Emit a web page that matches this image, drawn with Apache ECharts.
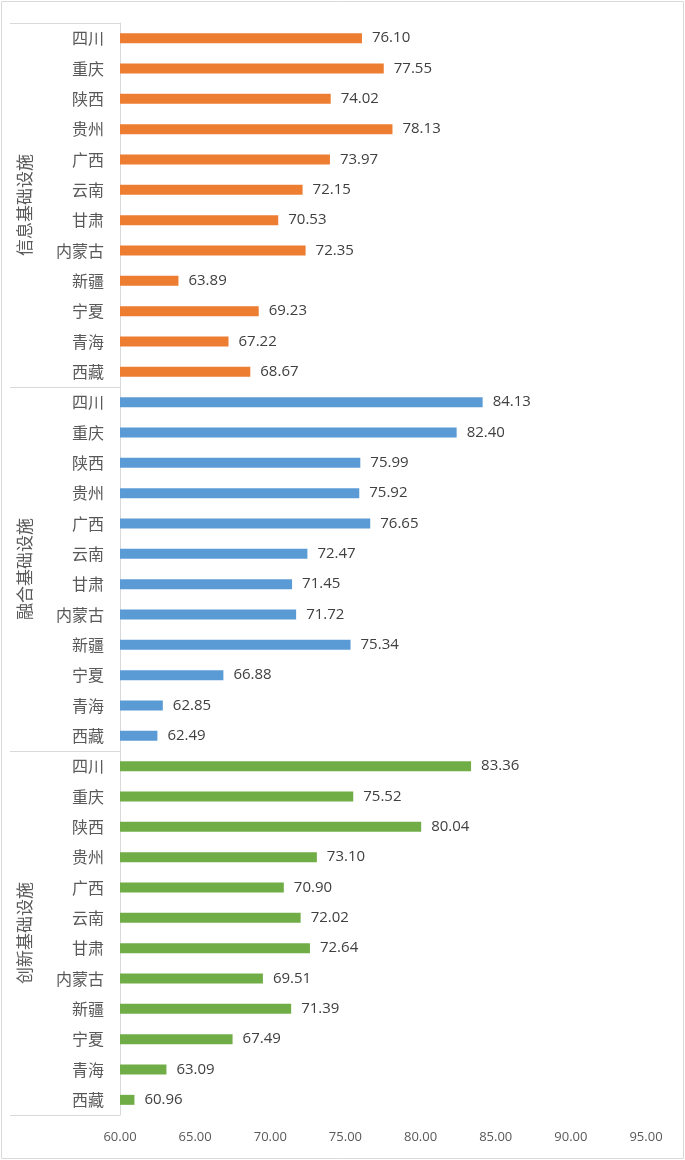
<!DOCTYPE html>
<html><head><meta charset="utf-8">
<style>html,body{margin:0;padding:0;background:#fff;}#c{width:685px;height:1160px;}</style>
<script src="https://cdn.jsdelivr.net/npm/echarts@6/dist/echarts.min.js"></script>
</head><body><div id="c"></div>
<script>
const provinces = ['四川','重庆','陕西','贵州','广西','云南','甘肃','内蒙古','新疆','宁夏','青海','西藏'];
const groups = ['信息基础设施','融合基础设施','创新基础设施'];
const infoValues = [76.10,77.55,74.02,78.13,73.97,72.15,70.53,72.35,63.89,69.23,67.22,68.67];
const fusionValues = [84.13,82.40,75.99,75.92,76.65,72.47,71.45,71.72,75.34,66.88,62.85,62.49];
const innovValues = [83.36,75.52,80.04,73.10,70.90,72.02,72.64,69.51,71.39,67.49,63.09,60.96];
const xTicks = [60,65,70,75,80,85,90,95];
const colors = ['#ED7D31','#5B9BD5','#70AD47'];

const groupValues = [infoValues, fusionValues, innovValues];
const categories = [];
groups.forEach(() => provinces.forEach(p => categories.push(p)));
const n = provinces.length;

const series = groupValues.map((vals, gi) => {
  const data = [];
  for (let g = 0; g < groups.length; g++) {
    for (let i = 0; i < n; i++) data.push(g === gi ? vals[i] : '-');
  }
  return {
    type: 'bar', name: groups[gi], data, yAxisIndex: 0,
    barWidth: 10, barGap: '-100%',
    itemStyle: { color: colors[gi] },
    label: { show: true, position: 'right', distance: 10, color: '#404040', fontSize: 15,
      fontFamily: 'Open Sans, sans-serif', formatter: p => Number(p.value).toFixed(2) },
    silent: true
  };
});

const chart = echarts.init(document.getElementById('c'), null, { renderer: 'canvas' });
chart.setOption({
  animation: false,
  backgroundColor: '#fff',
  grid: { left: 120, right: 39, top: 23, bottom: 45 },
  xAxis: {
    type: 'value', min: xTicks[0], max: xTicks[xTicks.length - 1], interval: 5,
    axisLine: { show: false }, axisTick: { show: false }, splitLine: { show: false },
    axisLabel: { color: '#595959', fontSize: 13, margin: 16, fontFamily: 'Open Sans, sans-serif',
      formatter: v => v.toFixed(2) }
  },
  yAxis: [{
    type: 'category', data: categories, inverse: true,
    axisLine: { show: true, lineStyle: { color: '#d9d9d9', width: 1 } },
    axisTick: { show: false },
    axisLabel: { color: '#595959', fontSize: 16, margin: 16, fontFamily: 'Noto Sans CJK SC' }
  }, {
    type: 'category', data: groups, inverse: true, position: 'left', offset: 110,
    axisLine: { show: false },
    axisTick: { show: true, inside: true, length: 110, lineStyle: { color: '#d9d9d9', width: 1 } },
    axisLabel: { inside: true, rotate: 90, margin: 6, color: '#595959', fontSize: 17,
      fontFamily: 'Noto Sans CJK SC' }
  }],
  graphic: [{
    type: 'rect', shape: { x: 1.5, y: 1.5, width: 682, height: 1157 },
    style: { fill: 'none', stroke: '#d9d9d9', lineWidth: 1 }, silent: true
  }],
  series
});
</script></body></html>
